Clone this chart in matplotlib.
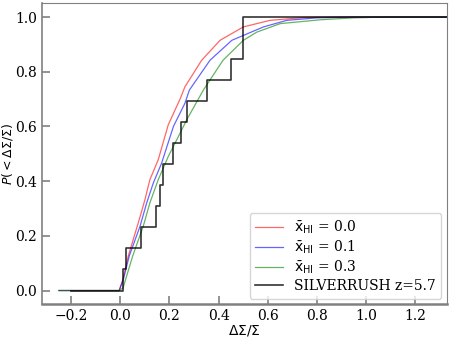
import matplotlib
matplotlib.use("Agg")
import matplotlib.pyplot as plt
import numpy as np

# model CDFs
red_x = [-0.25, -0.005, 0.01, 0.032, 0.073, 0.100, 0.120, 0.154, 0.195, 0.243, 0.263,
         0.331, 0.406, 0.501, 0.61, 0.745, 0.85, 1.33]
red_y = [0, 0, 0.04, 0.126, 0.248, 0.332, 0.405, 0.478, 0.606, 0.70, 0.745,
         0.842, 0.915, 0.964, 0.988, 0.998, 1.0, 1.0]

blue_x = [-0.25, -0.005, 0.012, 0.036, 0.080, 0.107, 0.134, 0.168, 0.216, 0.263, 0.281,
          0.365, 0.454, 0.583, 0.678, 0.80, 0.95, 1.33]
blue_y = [0, 0, 0.04, 0.126, 0.235, 0.32, 0.393, 0.466, 0.60, 0.685, 0.733,
          0.842, 0.915, 0.964, 0.988, 0.997, 1.0, 1.0]

green_x = [-0.25, -0.005, 0.011, 0.05, 0.093, 0.120, 0.154, 0.195, 0.243, 0.270, 0.338,
           0.418, 0.501, 0.556, 0.651, 0.814, 0.95, 1.08, 1.33]
green_y = [0, 0, 0.01, 0.126, 0.235, 0.32, 0.405, 0.49, 0.575, 0.624, 0.733,
           0.842, 0.915, 0.945, 0.976, 0.99, 0.997, 1.0, 1.0]

# SILVERRUSH z=5.7 measurements (13 objects)
obs = [0.012, 0.022, 0.082, 0.145, 0.161, 0.172, 0.213, 0.246, 0.270, 0.352, 0.452, 0.5, 0.5]
obs_start = -0.2
x_lim = (-0.32, 1.33)

labels = [r"$\bar{\rm x}_{\rm HI}$ = 0.0", r"$\bar{\rm x}_{\rm HI}$ = 0.1",
          r"$\bar{\rm x}_{\rm HI}$ = 0.3", "SILVERRUSH z=5.7"]

plt.rcParams["font.family"] = "DejaVu Serif"
plt.rcParams["mathtext.fontset"] = "dejavusans"
plt.rcParams["font.size"] = 10

fig = plt.figure(figsize=(4.5, 3.38), dpi=100)
ax = fig.add_axes([0.093, 0.1, 0.9, 0.89])

ax.plot(red_x, red_y, color="red", alpha=0.6, lw=0.9, label=labels[0])
ax.plot(blue_x, blue_y, color="blue", alpha=0.6, lw=0.9, label=labels[1])
ax.plot(green_x, green_y, color="green", alpha=0.6, lw=0.9, label=labels[2])

s = np.sort(obs)
cdf = np.arange(1, len(s) + 1) / len(s)
sx = np.concatenate([[obs_start], s, [x_lim[1]]])
sy = np.concatenate([[0], cdf, [1.0]])
ax.step(sx, sy, where="post", color="black", alpha=0.8, lw=1.2, label=labels[3])

ax.set_xlim(*x_lim)
ax.set_ylim(-0.05, 1.05)
ax.set_xticks(np.arange(-0.2, 1.21, 0.2))
ax.set_yticks(np.arange(0, 1.01, 0.2))
ax.set_xlabel(r"$\Delta\Sigma/\Sigma$", labelpad=0)
ax.set_ylabel(r"$P(<\Delta\Sigma/\Sigma)$", fontsize=9)
ax.yaxis.set_label_coords(-0.066, 0.5)

for sp in ax.spines.values():
    sp.set_color("gray")
ax.spines["bottom"].set_linewidth(1.8)
ax.spines["left"].set_linewidth(1.2)
ax.tick_params(direction="in", length=6, width=1.2, color="gray")

ax.legend(loc="lower right", fontsize=10, framealpha=0.8, labelspacing=0.2,
          borderaxespad=0.4)

fig.savefig("out.png", dpi=100)
